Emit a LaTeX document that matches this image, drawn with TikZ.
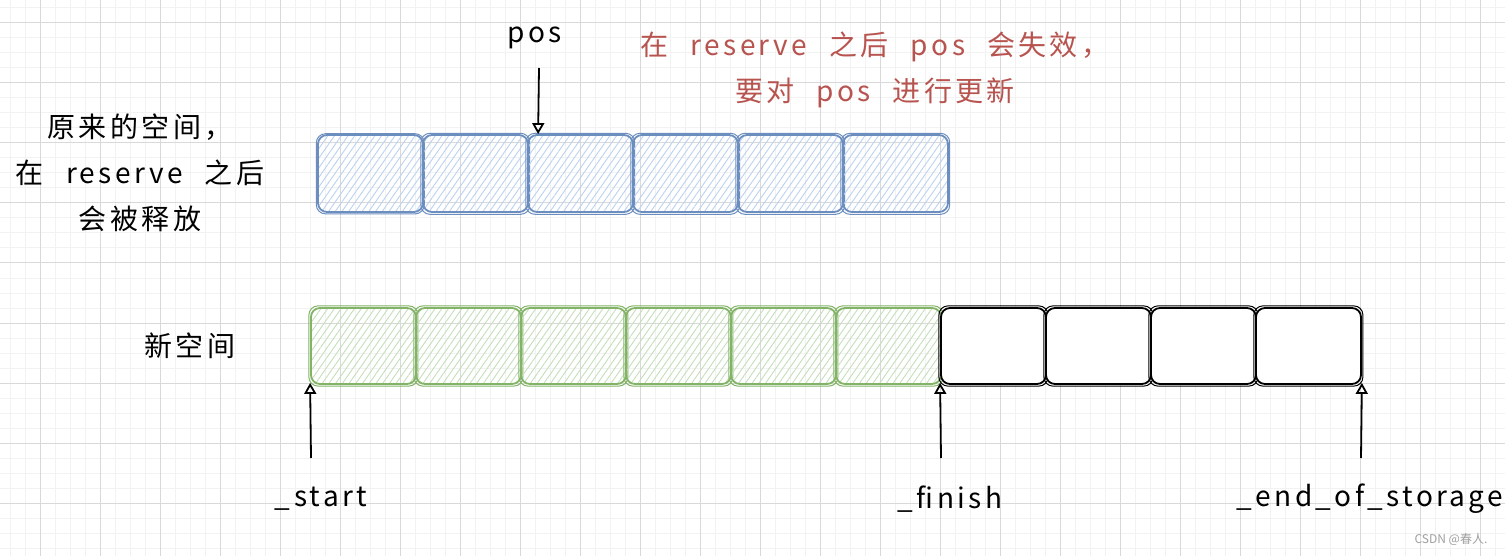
\documentclass[tikz,border=0pt]{standalone}
\usepackage{fontspec}
\newfontfamily\cjk[LetterSpace=12,WordSpace=2.3]{Noto Sans CJK SC}
\newfontfamily\cjkplain{Noto Sans CJK SC}
\usetikzlibrary{arrows.meta,patterns.meta}
\definecolor{gridminor}{HTML}{F2F2F2}
\definecolor{gridmajor}{HTML}{D9D9D9}
\definecolor{bluestroke}{HTML}{6C8EBF}
\definecolor{bluehatch}{HTML}{BDD2F0}
\definecolor{greenstroke}{HTML}{82B366}
\definecolor{greenhatch}{HTML}{C6DFBB}
\definecolor{redtext}{HTML}{B85450}
\definecolor{wm}{HTML}{A0A0A0}
\tikzset{
  cell/.style={rectangle, rounded corners=9pt, line width=1.8pt, inner sep=0pt, minimum width=105pt},
  bluecell/.style={cell, draw=bluestroke, minimum height=77pt,
    pattern={Lines[angle=55,distance=5.5pt,line width=0.9pt]}, pattern color=bluehatch},
  greencell/.style={cell, draw=greenstroke, minimum height=76pt,
    pattern={Lines[angle=55,distance=5.5pt,line width=0.9pt]}, pattern color=greenhatch},
  blackcell/.style={cell, draw=black, fill=white, minimum height=76pt},
  sketchline/.style={rounded corners=9pt, line width=1pt},
  lbl/.style={font={\cjk\fontsize{28}{46}\selectfont}, align=center, inner sep=0pt},
  ptr/.style={line width=1.8pt, -{Triangle[open,length=11pt,width=12pt,line width=1.8pt]}},
}
\begin{document}
\begin{tikzpicture}[x=1pt,y=-1pt]
\useasboundingbox (0,0) rectangle (1505,556);
\fill[white] (0,0) rectangle (1505,556);
% grid
\foreach \gx in {10,25,...,1505} \draw[gridminor, line width=1pt] (\gx,0) -- (\gx,556);
\foreach \gy in {8,23,...,556} \draw[gridminor, line width=1pt] (0,\gy) -- (1505,\gy);
\foreach \gx in {40,100,...,1505} \draw[gridmajor, line width=1pt] (\gx,0) -- (\gx,556);
\foreach \gy in {23,83,...,556} \draw[gridmajor, line width=1pt] (0,\gy) -- (1505,\gy);

% top row (original space)
\foreach \i in {1,...,6} {
  \node[bluecell] (b\i) at ({370.5+105*(\i-1)},173.5) {};
  \draw[sketchline, bluestroke] ([shift={(-1.2,-0.8)}]b\i.north west) rectangle ([shift={(0.8,1.4)}]b\i.south east);
}
% bottom row (new space)
\foreach \i in {1,...,6} {
  \node[greencell] (g\i) at ({363.5+105*(\i-1)},346) {};
  \draw[sketchline, greenstroke] ([shift={(-1.2,-1.2)}]g\i.north west) rectangle ([shift={(1,1.2)}]g\i.south east);
}
\foreach \i in {7,...,10} {
  \node[blackcell] (g\i) at ({363.5+105*(\i-1)},346) {};
  \draw[sketchline, black] ([shift={(-1.2,-1.2)}]g\i.north west) rectangle ([shift={(1,1.2)}]g\i.south east);
}

% labels
\node[lbl] (orig) at (140,173) {原来的空间，\\在 reserve 之后\\会被释放};
\node[lbl] (newsp) at (190,346) {新空间};
\node[lbl] (pos) at (535,38) {pos};
\node[lbl, text=redtext] (note) at (875,70) {在 reserve 之后 pos 会失效，\\要对 pos 进行更新};
\node[lbl] (start) at (321,499) {\_start};
\node[lbl] (finish) at (950,499) {\_finish};
\node[lbl] (eos) at (1370,499) {\_end\_of\_storage};
\node[font={\cjkplain\fontsize{12}{14}\selectfont}, text=wm, inner sep=0pt] (wmk) at (1451,539) {CSDN @春人.};

% pointers
\coordinate (posTail) at (539,68);
\draw[ptr] (posTail) -- ([xshift=11pt]b3.north west);
\coordinate (startTail) at (311,458);
\draw[ptr] (startTail) -- ([yshift=2pt]g1.south west);
\coordinate (finishTail) at (941,458);
\draw[ptr] (finishTail) -- ([yshift=2pt]g7.south west);
\coordinate (eosTail) at (1361,458);
\draw[ptr] (eosTail) -- ([yshift=2pt]g10.south east);
\end{tikzpicture}
\end{document}
